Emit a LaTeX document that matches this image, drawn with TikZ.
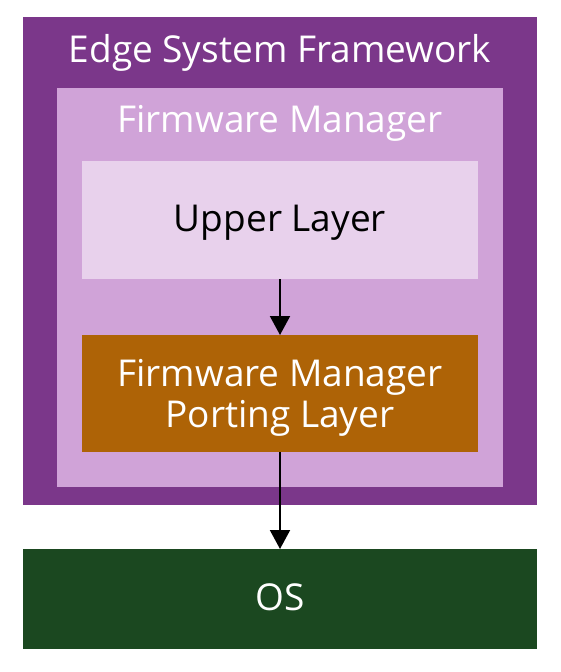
\documentclass[tikz,border=0pt]{standalone}
\usepackage{fontspec}
\setmainfont{Open Sans}
\usetikzlibrary{arrows.meta}
\usepackage{xcolor}
\definecolor{esfpurple}{HTML}{7B378A}
\definecolor{fwmlilac}{HTML}{D0A3D8}
\definecolor{upperpink}{HTML}{E8D1EC}
\definecolor{portorange}{HTML}{AE6306}
\definecolor{osgreen}{HTML}{1B4820}
\tikzset{
	box/.style={rectangle, inner sep=0pt, outer sep=0pt},
	lbl/.style={anchor=base, inner sep=0pt, font=\fontsize{37}{44}\selectfont},
	flow/.style={line width=2pt, -{Triangle[width=20pt,length=19pt]}}
}

\begin{document}
\begin{tikzpicture}[x=1pt,y=-1pt]
			\useasboundingbox (0,0) rectangle (560,672);
			% frames
			\node[box, fill=esfpurple, minimum width=514pt, minimum height=488pt] (esf) at (280,261) {};
			\node[box, fill=fwmlilac, minimum width=446pt, minimum height=399pt] (fwm) at (280,287.5) {};
			\node[box, fill=upperpink, minimum width=396pt, minimum height=118pt] (upper) at (280,220) {};
			\node[box, fill=portorange, minimum width=396pt, minimum height=117pt] (port) at (280,393.5) {};
			\node[box, fill=osgreen, minimum width=514pt, minimum height=100pt] (os) at (280,599) {};
			
			% texts
			\node[lbl, text=white] (esftext) at (280,62) {Edge System Framework};
			\node[lbl, text=white] (fwmtext) at (280,132) {Firmware Manager};
			\node[lbl, text=black] (uppertext) at (280,231) {Upper Layer};
			\node[lbl, text=white] (porttext1) at (280,386) {Firmware Manager};
			\node[lbl, text=white] (porttext2) at (280,427) {Porting Layer};
			\node[lbl, text=white] (ostext) at (280,610) {OS};
			
			% arrows
			\draw[flow] (upper) -- (port);
			\draw[flow] (port) -- (os);
			\end{tikzpicture}
\end{document}
